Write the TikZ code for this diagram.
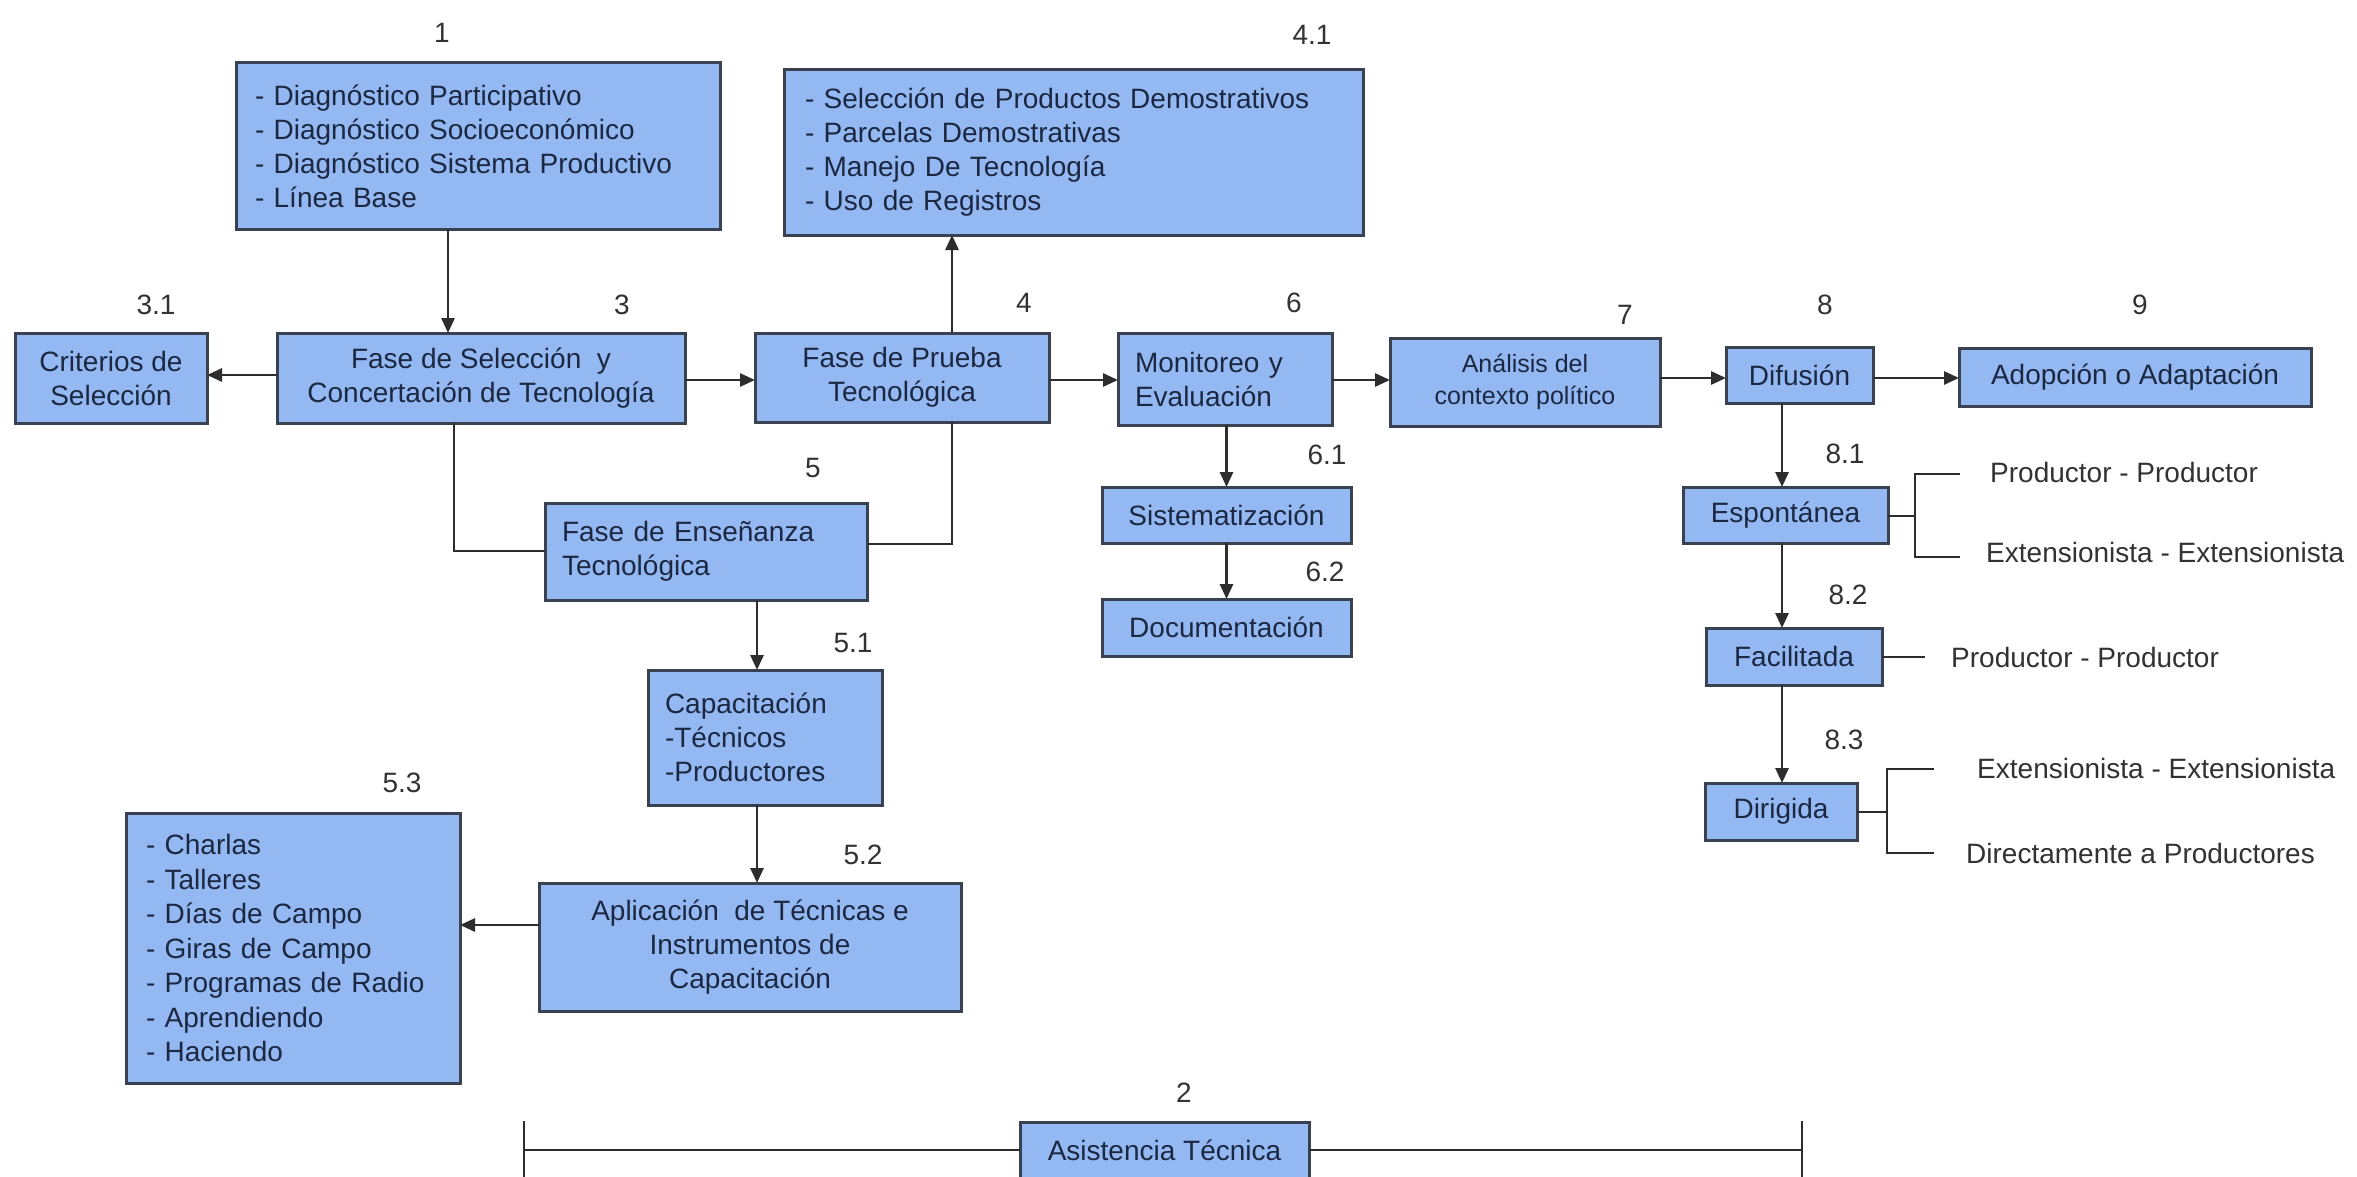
\documentclass[tikz,border=0pt]{standalone}
\usepackage{fontspec}
\setmainfont{Liberation Sans}
\usetikzlibrary{arrows.meta,calc}
\definecolor{boxfill}{RGB}{148,184,242}
\definecolor{boxdraw}{RGB}{58,66,82}
\definecolor{boxtext}{RGB}{28,40,66}
\definecolor{linec}{RGB}{45,45,45}
\definecolor{labc}{RGB}{50,50,50}
\begin{document}
\begin{tikzpicture}[x=1pt,y=-1pt,
  box/.style={draw=boxdraw, line width=3pt, fill=boxfill, text=boxtext,
    font=\fontsize{28}{34}\selectfont, inner sep=0pt, outer sep=0pt},
  cbox/.style={box, align=center},
  lbox/.style={box, align=left, inner xsep=17pt},
  lab/.style={text=labc, font=\fontsize{28}{34}\selectfont, inner sep=0pt},
  side/.style={text=labc, font=\fontsize{28}{34}\selectfont, inner sep=0pt, anchor=west},
  conn/.style={draw=linec, line width=2.8pt},
  arr/.style={conn, -{Triangle[length=15pt,width=13pt]}},
]
\useasboundingbox (0,0) rectangle (2357,1177);
\fill[white] (0,0) rectangle (2357,1177);

% boxes
\node[lbox, inner xsep=19pt, text width=446pt, minimum height=166pt] (b1) at (478,146)
  {- Diagnóstico Participativo\\- Diagnóstico Socioeconómico\\- Diagnóstico Sistema Productivo\\- Línea Base};
\node[lbox, inner xsep=21pt, text width=537pt, minimum height=165pt] (b41) at (1073.5,152.5)
  {- Selección de Productos Demostrativos\\- Parcelas Demostrativas\\- Manejo De Tecnología\\- Uso de Registros};
\node[cbox, minimum width=192pt, minimum height=90pt] (b31) at (111,378) {Criterios de\\Selección};
\node[cbox, minimum width=408pt, minimum height=90pt] (b3) at (481,378) {Fase de Selección \ y\\Concertación de Tecnología};
\node[cbox, minimum width=294pt, minimum height=89pt] (b4) at (902,377.5) {Fase de Prueba\\Tecnológica};
\node[lbox, text width=180pt, minimum height=92pt] (b6) at (1225,379) {Monitoreo y\\Evaluación};
\node[cbox, minimum width=270pt, minimum height=88pt, font=\fontsize{25}{32}\selectfont] (b7) at (1525,382) {Análisis del\\contexto político};
\node[cbox, minimum width=147pt, minimum height=56pt] (b8) at (1799.5,375) {Difusión};
\node[cbox, minimum width=352pt, minimum height=58pt] (b9) at (2135,377) {Adopción o Adaptación};
\node[lbox, text width=288pt, minimum height=97pt] (b5) at (706,551.5) {Fase de Enseñanza\\Tecnológica};
\node[cbox, minimum width=249pt, minimum height=56pt] (b61) at (1226.5,515) {Sistematización};
\node[cbox, minimum width=249pt, minimum height=57pt] (b62) at (1226.5,627.5) {Documentación};
\node[lbox, text width=200pt, minimum height=135pt] (b51) at (765,737.5) {Capacitación\\-Técnicos\\-Productores};
\node[cbox, minimum width=422pt, minimum height=128pt] (b52) at (750,947) {Aplicación \ de Técnicas e\\Instrumentos de\\Capacitación};
\node[lbox, inner xsep=20pt, text width=294pt, minimum height=270pt, font=\fontsize{28}{34.5}\selectfont] (b53) at (293,948)
  {- Charlas\\- Talleres\\- Días de Campo\\- Giras de Campo\\- Programas de Radio\\- Aprendiendo\\- Haciendo};
\node[cbox, minimum width=205pt, minimum height=56pt] (b81) at (1785.5,515) {Espontánea};
\node[cbox, minimum width=176pt, minimum height=57pt] (b82) at (1794,656.5) {Facilitada};
\node[cbox, minimum width=152pt, minimum height=57pt] (b83) at (1781,811.5) {Dirigida};
\node[cbox, minimum width=289pt, minimum height=56pt] (b2) at (1164.5,1150) {Asistencia Técnica};

% number labels
\node[lab] (l1) at (442,33) {1};
\node[lab] (l41) at (1312,35) {4.1};
\node[lab] (l31) at (156,305) {3.1};
\node[lab] (l3) at (622,305) {3};
\node[lab] (l4) at (1024,303) {4};
\node[lab] (l6) at (1294,303) {6};
\node[lab] (l7) at (1625,315) {7};
\node[lab] (l8) at (1825,305) {8};
\node[lab] (l9) at (2140,305) {9};
\node[lab] (l5) at (813,468) {5};
\node[lab] (l61) at (1327,455) {6.1};
\node[lab] (l62) at (1325,572) {6.2};
\node[lab] (l51) at (853,643) {5.1};
\node[lab] (l52) at (863,855) {5.2};
\node[lab] (l53) at (402,783) {5.3};
\node[lab] (l81) at (1845,454) {8.1};
\node[lab] (l82) at (1848,595) {8.2};
\node[lab] (l83) at (1844,740) {8.3};
\node[lab] (l2) at (1184,1093) {2};

% side texts
\node[side] (s1) at (1990,472) {Productor - Productor};
\node[side] (s2) at (1986,552) {Extensionista - Extensionista};
\node[side] (s3) at (1951,657) {Productor - Productor};
\node[side] (s4) at (1977,768) {Extensionista - Extensionista};
\node[side] (s5) at (1966,853) {Directamente a Productores};

% helper coordinates
\coordinate (x448) at (448,0);
\coordinate (x454) at (454,0);
\coordinate (x952) at (952,0);
\coordinate (x757) at (757,0);
\coordinate (x1782) at (1782,0);
\coordinate (y375) at (0,375);
\coordinate (y380) at (0,380);
\coordinate (y378) at (0,378);
\coordinate (y544) at (0,544);
\coordinate (y551) at (0,551);
\coordinate (y925) at (0,925);

% connectors
\draw[arr] (b1.south -| x448) -- (b3.north -| x448);
\draw[arr] (b3.west |- y375) -- (b31.east |- y375);
\draw[arr] (b3.east |- y380) -- (b4.west |- y380);
\draw[arr] (b4.east |- y380) -- (b6.west |- y380);
\draw[arr] (b6.east |- y380) -- (b7.west |- y380);
\draw[arr] (b7.east |- y378) -- (b8.west |- y378);
\draw[arr] (b8.east |- y378) -- (b9.west |- y378);
\draw[arr] (b4.north -| x952) -- (b41.south -| x952);
\draw[conn] (b4.south -| x952) |- (b5.east |- y544);
\draw[conn] (b3.south -| x454) |- (b5.west |- y551);
\draw[arr] (b6.south -| b61.north) -- (b61.north);
\draw[arr] (b61.south) -- (b62.north);
\draw[arr] (b5.south -| x757) -- (b51.north -| x757);
\draw[arr] (b51.south -| x757) -- (b52.north -| x757);
\draw[arr] (b52.west |- y925) -- (b53.east |- y925);
\draw[arr] (b8.south -| x1782) -- (b81.north -| x1782);
\draw[arr] (b81.south -| x1782) -- (b82.north -| x1782);
\draw[arr] (b82.south -| x1782) -- (b83.north -| x1782);

% brackets for Espontanea
\coordinate (e0) at (1915,516);
\coordinate (e1) at (1915,474);
\coordinate (e2) at (1915,557);
\coordinate (e1t) at (1960,474);
\coordinate (e2t) at (1960,557);
\draw[conn] (b81.east |- e0) -- (e0);
\draw[conn] (e1t) -- (e1) -- (e2) -- (e2t);
% Facilitada
\coordinate (f0) at (1925,657);
\draw[conn] (b82.east |- f0) -- (f0);
% Dirigida
\coordinate (d0) at (1887,812);
\coordinate (d1) at (1887,769);
\coordinate (d2) at (1887,853);
\coordinate (d1t) at (1934,769);
\coordinate (d2t) at (1934,853);
\draw[conn] (b83.east |- d0) -- (d0);
\draw[conn] (d1t) -- (d1) -- (d2) -- (d2t);

% Asistencia tecnica bar
\coordinate (bl) at (524,1150);
\coordinate (br) at (1802,1150);
\coordinate (blt) at (524,1121);
\coordinate (blb) at (524,1185);
\coordinate (brt) at (1802,1121);
\coordinate (brb) at (1802,1185);
\draw[conn] (bl) -- (b2.west);
\draw[conn] (b2.east) -- (br);
\draw[conn] (blt) -- (blb);
\draw[conn] (brt) -- (brb);
\end{tikzpicture}
\end{document}
